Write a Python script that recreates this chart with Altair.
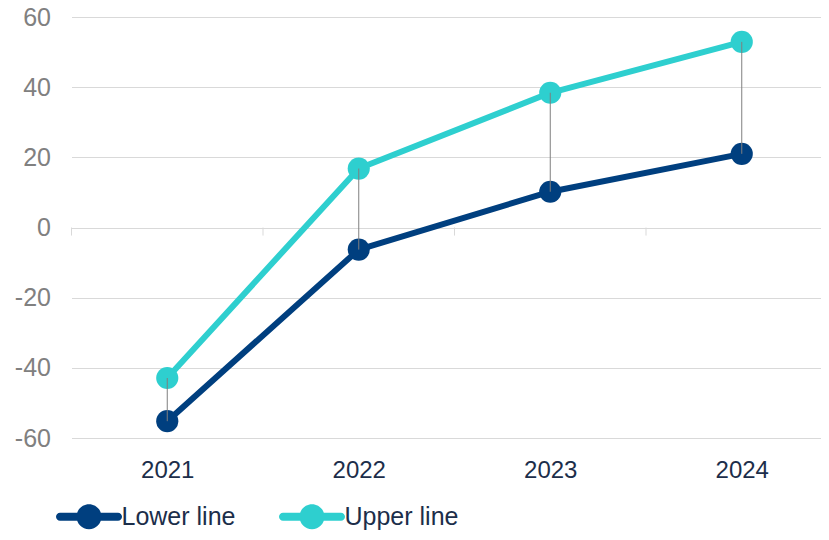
import altair as alt
import pandas as pd

years = [2021, 2022, 2023, 2024]
lower = [-55.2, -6.3, 10.2, 21.0]
upper = [-42.9, 16.8, 38.4, 52.9]
series_names = ["Lower line", "Upper line"]
series_colors = ["#003f7f", "#2ecfcf"]
y_ticks = [-60, -40, -20, 0, 20, 40, 60]
boundaries = [2020.5, 2021.5, 2022.5, 2023.5]

long_df = pd.DataFrame(
    [{"year": y, "series": series_names[0], "value": v} for y, v in zip(years, lower)]
    + [{"year": y, "series": series_names[1], "value": v} for y, v in zip(years, upper)]
)
wide_df = pd.DataFrame({"year": years, "lower": lower, "upper": upper})
tick_df = pd.DataFrame({"b": boundaries, "y0": [0] * len(boundaries), "y1": [-2.3] * len(boundaries)})

FONT = "Liberation Sans"
PX_PER_YEAR = 191.5
PLOT_W = 749.5
xscale = alt.Scale(domain=[2020.5, 2020.5 + PLOT_W / PX_PER_YEAR], nice=False, zero=False)
yscale = alt.Scale(domain=[-60, 60], nice=False)
cscale = alt.Scale(domain=series_names, range=series_colors)

x_axis = alt.Axis(values=years, format="d", title=None, grid=False, ticks=False, tickSize=0,
                  domain=False, labelFont=FONT, labelFontSize=24, labelColor="#1c2e4a",
                  labelBaseline="alphabetic", labelPadding=39)
y_axis = alt.Axis(values=y_ticks, title=None, grid=True, gridColor="#d9d9d9", gridWidth=1,
                  ticks=False, tickSize=0, domain=False, labelFont=FONT, labelFontSize=25,
                  labelColor="#808080", labelPadding=21,
                  labelExpr="datum.value < 0 ? '-' + abs(datum.value) : '' + datum.value")

base_x = alt.X("year:Q", scale=xscale, axis=x_axis)

ticks = alt.Chart(tick_df).mark_rule(color="#d9d9d9", strokeWidth=1).encode(
    x=alt.X("b:Q", scale=xscale, axis=x_axis),
    y=alt.Y("y0:Q", scale=yscale, axis=y_axis),
    y2="y1:Q",
)

lines = alt.Chart(long_df).mark_line(strokeWidth=6, strokeJoin="round", strokeCap="round").encode(
    x=base_x,
    y=alt.Y("value:Q", scale=yscale, axis=y_axis),
    stroke=alt.Stroke("series:N", scale=cscale, legend=None),
    detail="series:N",
)

legend_path = ("M-2.32,-0.32 H2.32 A0.32,0.32 0 0,1 2.32,0.32 H-2.32 A0.32,0.32 0 0,1 -2.32,-0.32 Z "
               "M-1,0 A1,1 0 1,1 1,0 A1,1 0 1,1 -1,0 Z")

points = alt.Chart(long_df).mark_circle(size=490, opacity=1).encode(
    x=base_x,
    y=alt.Y("value:Q", scale=yscale, axis=y_axis),
    fill=alt.Fill(
        "series:N", scale=cscale,
        legend=alt.Legend(title=None, orient="none", legendX=5, legendY=487, direction="horizontal",
                          columns=2, symbolType=legend_path, symbolSize=625, symbolStrokeWidth=0,
                          symbolOpacity=1,
                          labelFont=FONT, labelFontSize=25, labelColor="#1c2e4a", labelOffset=20,
                          columnPadding=43),
    ),
)

connectors = alt.Chart(wide_df).mark_rule(color="#7f7f7f", strokeWidth=1).encode(
    x=base_x,
    y=alt.Y("upper:Q", scale=yscale, axis=y_axis),
    y2="lower:Q",
)

chart = alt.layer(ticks, lines, points, connectors).resolve_scale(
    fill="independent", stroke="independent"
).properties(
    width=PLOT_W,
    height=421,
    autosize=alt.AutoSizeParams(type="none"),
    padding={"left": 63.5, "top": 9, "right": 0, "bottom": 94},
).configure_view(stroke=None)

chart.save("out.html", embed_options={"renderer": "svg", "actions": False})
